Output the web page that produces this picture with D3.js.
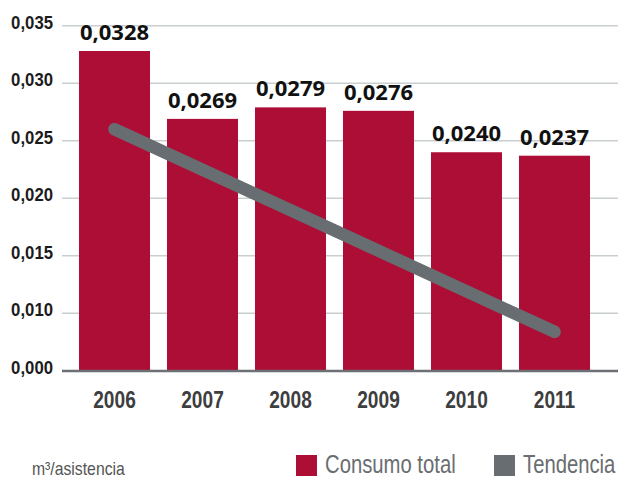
<!DOCTYPE html>
<html>
<head>
<meta charset="utf-8">
<script src="https://cdn.jsdelivr.net/npm/d3@7"></script>
<style>
  html, body { margin: 0; padding: 0; background: #fff; }
  svg { display: block; }
</style>
</head>
<body>
<svg id="chart" width="618" height="479"></svg>
<script>
// Water consumption per attendance, 2006–2011
const years = ["2006", "2007", "2008", "2009", "2010", "2011"];
const consumo = [0.0328, 0.0269, 0.0279, 0.0276, 0.0240, 0.0237];
const valueLabels = ["0,0328", "0,0269", "0,0279", "0,0276", "0,0240", "0,0237"];
// Trend line: start (2006) and end (2011) values
const trendYears = ["2006", "2011"];
const trendValues = [0.0260, 0.0068];
const yTicks = [0, 0.010, 0.015, 0.020, 0.025, 0.030, 0.035];
const yTickLabels = ["0,000", "0,010", "0,015", "0,020", "0,025", "0,030", "0,035"];
const legendItems = ["Consumo total", "Tendencia"];
const unitLabel = "m³/asistencia";

const RED = "#ad0e36";
const GREY = "#686d71";
const sans = "'Liberation Sans', Arial, sans-serif";
const wide = "'Open Sans', 'DejaVu Sans', sans-serif";

// Squeeze text horizontally around its anchor point to get a condensed face
function condense(sel, factor) {
  sel.each(function () {
    const t = d3.select(this);
    const tx = +t.attr("x") || 0;
    const ty = +t.attr("y") || 0;
    t.attr("x", 0).attr("y", 0)
      .attr("transform", `translate(${tx},${ty}) scale(${factor},1)`);
  });
}

const svg = d3.select("#chart");

// Broken value axis: 0 sits at the baseline, 0.010 and up are evenly spaced
const y = d3.scaleLinear()
  .domain([0, 0.010, 0.035])
  .range([371, 313.3, 25.7]);

const x = d3.scaleBand()
  .domain(years)
  .range([70.5, 598.5])
  .paddingInner(17 / 88)
  .paddingOuter(17 / 176);

const plotLeft = 62, plotRight = 618;

// Gridlines
svg.append("g")
  .selectAll("line")
  .data(yTicks.filter(d => d > 0))
  .join("line")
  .attr("x1", plotLeft).attr("x2", plotRight)
  .attr("y1", d => y(d)).attr("y2", d => y(d))
  .attr("stroke", "#c9ced1")
  .attr("stroke-width", 1.5);

// Y axis labels
const yAxis = d3.axisLeft(y)
  .tickValues(yTicks)
  .tickFormat((d, i) => yTickLabels[i])
  .tickSize(0)
  .tickPadding(0);
const yg = svg.append("g")
  .attr("transform", "translate(53,0)")
  .call(yAxis);
yg.select(".domain").remove();
yg.selectAll("text")
  .attr("dy", "2.5px")
  .attr("font-family", sans)
  .attr("font-weight", "bold")
  .attr("font-size", "18px")
  .attr("fill", "#1b1b1b")
  .call(condense, 0.93);

// Bars
svg.append("g")
  .selectAll("rect")
  .data(consumo)
  .join("rect")
  .attr("x", (d, i) => x(years[i]))
  .attr("width", x.bandwidth())
  .attr("y", d => y(d))
  .attr("height", d => y(0) - y(d))
  .attr("fill", RED);

// Baseline
svg.append("line")
  .attr("x1", plotLeft).attr("x2", plotRight)
  .attr("y1", y(0)).attr("y2", y(0))
  .attr("stroke", "#6c6f73")
  .attr("stroke-width", 2.5);

// Value labels
svg.append("g")
  .selectAll("text")
  .data(consumo)
  .join("text")
  .attr("x", (d, i) => x(years[i]) + x.bandwidth() / 2)
  .attr("y", d => y(d) - 11)
  .attr("text-anchor", "middle")
  .attr("font-family", wide)
  .attr("font-weight", "bold")
  .attr("font-size", "22px")
  .attr("fill", "#111")
  .text((d, i) => valueLabels[i]);

// Trend line
const trendLine = d3.line()
  .x((d, i) => x(trendYears[i]) + x.bandwidth() / 2)
  .y(d => y(d));
svg.append("path")
  .datum(trendValues)
  .attr("d", trendLine)
  .attr("fill", "none")
  .attr("stroke", GREY)
  .attr("stroke-width", 12.5)
  .attr("stroke-linecap", "round");

// X axis labels
const xAxis = d3.axisBottom(x).tickSize(0).tickPadding(0);
const xg = svg.append("g")
  .attr("transform", "translate(0,408)")
  .call(xAxis);
xg.select(".domain").remove();
xg.selectAll("text")
  .attr("y", 0)
  .attr("dy", 0)
  .attr("font-family", sans)
  .attr("font-weight", "bold")
  .attr("font-size", "24.5px")
  .attr("fill", "#3e3e3e")
  .call(condense, 0.78);

// Unit label
svg.append("text")
  .attr("x", 32)
  .attr("y", 474.5)
  .attr("font-family", sans)
  .attr("font-size", "19px")
  .attr("fill", "#555")
  .text(unitLabel)
  .call(condense, 0.83);

// Legend
const legendX = [296, 494];
const legendColors = [RED, GREY];
const lg = svg.append("g")
  .selectAll("g")
  .data(legendItems)
  .join("g")
  .attr("transform", (d, i) => `translate(${legendX[i]},455)`);
lg.append("rect")
  .attr("width", 21).attr("height", 21)
  .attr("fill", (d, i) => legendColors[i]);
lg.append("text")
  .attr("x", 29)
  .attr("y", 18)
  .attr("font-family", sans)
  .attr("font-size", "26px")
  .attr("fill", "#6a6d70")
  .text(d => d)
  .call(condense, 0.78);
</script>
</body>
</html>
